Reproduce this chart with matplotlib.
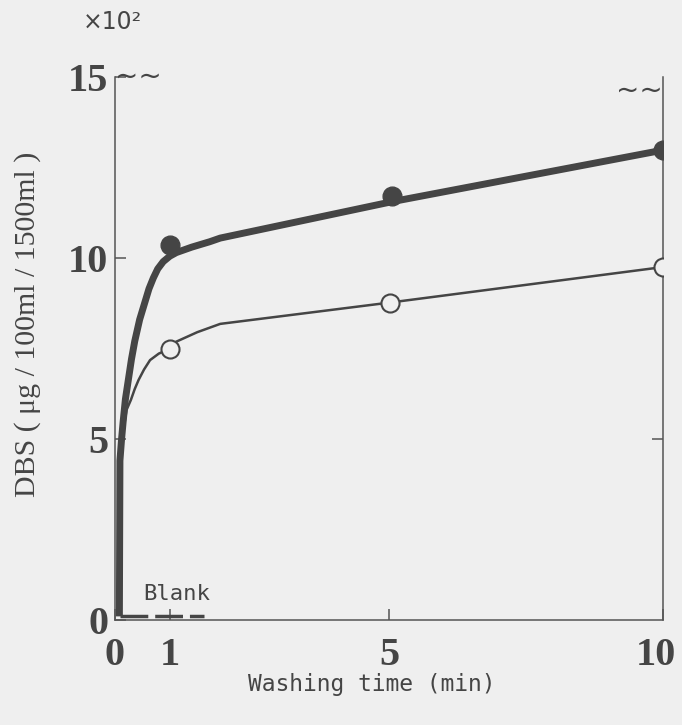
import numpy as np
import matplotlib.pyplot as plt
from matplotlib.transforms import ScaledTranslation

# washing time (min) vs DBS (x10^2 ug/100ml/1500ml)
filled_t = [1.0, 5.05, 10.0]
filled_v = [10.35, 11.7, 12.98]
open_t = [1.0, 5.02, 10.0]
open_v = [7.48, 8.77, 9.75]

# hand-drawn curve traces
filled_curve_t = [0.08, 0.09, 0.12, 0.15, 0.19, 0.24, 0.3, 0.36, 0.45, 0.55, 0.62,
                  0.7, 0.78, 0.88, 1.0, 1.12, 1.4, 1.73, 1.92, 5.07, 10.0]
filled_curve_v = [0.1, 4.4, 5.0, 5.5, 6.1, 6.6, 7.2, 7.7, 8.3, 8.8, 9.15,
                  9.45, 9.7, 9.9, 10.05, 10.15, 10.3, 10.45, 10.55, 11.56, 12.98]
open_curve_t = [0.1, 0.16, 0.21, 0.29, 0.36, 0.43, 0.53, 0.64, 0.8, 0.99, 1.12,
                1.5, 1.92, 5.02, 10.0]
open_curve_v = [4.6, 5.3, 5.8, 6.08, 6.38, 6.63, 6.92, 7.18, 7.36, 7.48, 7.69,
                7.95, 8.18, 8.77, 9.75]

blank_t = [0.1, 1.62]
blank_v = [0.1, 0.1]

x_ticks = [0, 1, 5, 10]
y_ticks = [0, 5, 10, 15]

bg = '#efefef'
ink = '#454545'

fig = plt.figure(figsize=(6.82, 7.25), dpi=100, facecolor=bg)
ax = fig.add_axes([115/682, 1-620/725, 548/682, 543/725], facecolor=bg)

ax.plot(open_curve_t, open_curve_v, color=ink, lw=1.8, solid_joinstyle='round', zorder=3)
ax.plot(open_t, open_v, 'o', ms=13, mfc=bg, mec=ink, mew=1.5, zorder=4)
ax.plot(filled_curve_t, filled_curve_v, color=ink, lw=5, solid_capstyle='butt',
        solid_joinstyle='round', zorder=5)
ax.plot(filled_t, filled_v, 'o', ms=13.5, color=ink, zorder=6)
ax.plot(blank_t, blank_v, color=ink, lw=2.5, dashes=(8, 2), zorder=5)
ax.text(0.51, 0.45, 'Blank', fontsize=16, family='DejaVu Sans Mono', color=ink,
        ha='left', va='bottom')

ax.set_xlim(0, 10)
ax.set_ylim(0, 15)
ax.spines['top'].set_visible(False)
for s in ['left', 'right', 'bottom']:
    ax.spines[s].set_color('#555555')
    ax.spines[s].set_linewidth(1.1)

ax.set_xticks(x_ticks)
ax.set_yticks(y_ticks)
ax.set_xticklabels([str(t) for t in x_ticks])
ax.set_yticklabels([str(t) for t in y_ticks])
ax.tick_params(axis='both', direction='in', length=8, width=1.1, color='#555555',
               labelcolor=ink)
ax.tick_params(axis='x', pad=12)
ax.tick_params(axis='y', pad=5)
for lab in ax.get_xticklabels() + ax.get_yticklabels():
    lab.set_fontfamily('Liberation Serif')
    lab.set_fontweight('bold')
    lab.set_fontsize(29)
# nudge the last x label so it stays inside the figure
last = ax.get_xticklabels()[-1]
last.set_transform(last.get_transform() + ScaledTranslation(-7/100, 0, fig.dpi_scale_trans))

sec = ax.secondary_yaxis('right')
sec.set_yticks([5])
sec.set_yticklabels([])
sec.tick_params(direction='in', length=8, width=1.1, color='#555555')
sec.spines['right'].set_visible(False)

ax.set_xlabel('Washing time (min)', fontsize=16.5, family='DejaVu Sans Mono', color=ink)
ax.xaxis.set_label_coords(0.469, -0.0976)
ax.set_ylabel('DBS ( μg / 100ml / 1500ml )', fontsize=21.5, family='Liberation Serif',
              color=ink)
ax.yaxis.set_label_coords(-0.135, 0.545)

# axis break marks
ax.text(0.0, 1.0, '~~', transform=ax.transAxes, fontsize=20, color=ink,
        ha='left', va='center')
ax.text(1.0, 0.975, '~~', transform=ax.transAxes, fontsize=20, color=ink,
        ha='right', va='center')
fig.text(83/682, 1-22/725, '×10²', fontsize=17, color=ink, ha='left', va='center')

fig.savefig('out.png', dpi=100, facecolor=bg)
